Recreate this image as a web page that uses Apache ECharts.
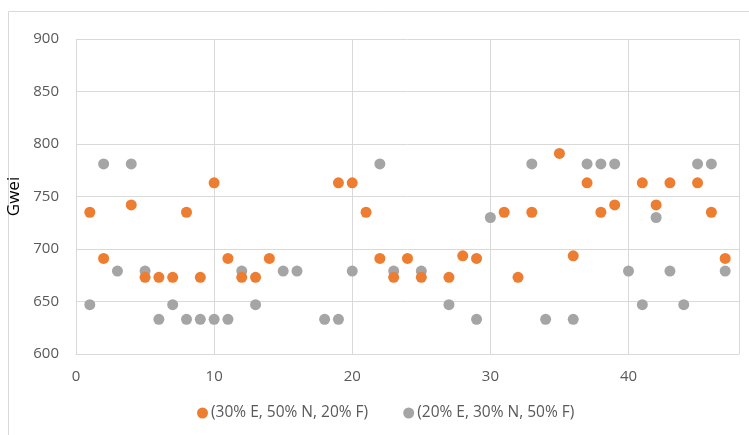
<!DOCTYPE html>
<html>
<head>
<meta charset="utf-8">
<script src="https://cdn.jsdelivr.net/npm/echarts@6/dist/echarts.min.js"></script>
<style>
html,body{margin:0;padding:0;background:#fff;}
#chart{width:749px;height:435px;}
</style>
</head>
<body>
<div id="chart"></div>
<script>
var seriesNames = ['(30% E, 50% N, 20% F)', '(20% E, 30% N, 50% F)'];
var orangeX = [1,2,4,5,6,7,8,9,10,11,12,13,14,19,20,21,22,23,24,25,27,28,29,31,32,33,35,36,37,38,39,41,42,43,45,46,47];
var orangeY = [735,691,742,673,673,673,735,673,763,691,673,673,691,763,763,735,691,673,691,673,673,693.5,691,735,673,735,791,693.5,763,735,742,763,742,763,763,735,691];
var grayX = [1,2,3,4,5,6,7,8,9,10,11,12,13,15,16,18,19,20,22,23,25,27,29,30,33,34,36,37,38,39,40,41,42,43,44,45,46,47];
var grayY = [647,781,679,781,679,633,647,633,633,633,633,679,647,679,679,633,633,679,781,679,679,647,633,730,781,633,633,781,781,781,679,647,730,679,647,781,781,679];
var xTicks = [0,10,20,30,40];
var yTicks = [600,650,700,750,800,850,900];

function pairs(xs, ys){ return xs.map(function(x,i){ return [x, ys[i]]; }); }

var font = 'Open Sans';
var chart = echarts.init(document.getElementById('chart'));
chart.setOption({
  animation: false,
  textStyle: {fontFamily: font},
  graphic: [{
    type: 'rect', shape: {x: 8.5, y: 11.5, width: 760, height: 440},
    style: {fill: 'none', stroke: '#d9d9d9', lineWidth: 1}, silent: true
  }],
  grid: {left: 76, right: 10, top: 39, bottom: 81, containLabel: false, outerBoundsMode: 'none'},
  legend: {
    left: 192, top: 400,
    itemWidth: 11, itemHeight: 11, itemGap: 35,
    textStyle: {fontFamily: font, fontSize: 15.5, color: '#595959', padding: [0,0,0,-2]},
    data: [{name: seriesNames[0], icon: 'circle'}, {name: seriesNames[1], icon: 'circle'}]
  },
  xAxis: {
    type: 'value', min: 0, max: 48, interval: 10,
    axisLine: {show: true, lineStyle: {color: '#d9d9d9', width: 1}},
    axisTick: {show: false},
    splitLine: {show: true, lineStyle: {color: '#d9d9d9', width: 1}},
    axisLabel: {
      color: '#595959', fontSize: 15, fontFamily: font, margin: 15,
      formatter: function(v){ return xTicks.indexOf(v) >= 0 ? String(v) : ''; }
    }
  },
  yAxis: {
    type: 'value', min: 600, max: 900, interval: 50,
    name: 'Gwei', nameLocation: 'middle', nameGap: 45, nameRotate: 90,
    nameTextStyle: {color: '#000', fontSize: 17, fontFamily: font},
    axisLine: {show: false},
    axisTick: {show: false},
    splitLine: {show: true, lineStyle: {color: '#d9d9d9', width: 1}},
    axisLabel: {
      color: '#595959', fontSize: 15, fontFamily: font, margin: 17,
      formatter: function(v){ return yTicks.indexOf(v) >= 0 ? String(v) : ''; }
    }
  },
  series: [
    {name: seriesNames[0], type: 'scatter', symbol: 'circle', symbolSize: 11,
     itemStyle: {color: '#ED7D31', opacity: 1}, data: pairs(orangeX, orangeY), z: 3},
    {name: seriesNames[1], type: 'scatter', symbol: 'circle', symbolSize: 11,
     itemStyle: {color: '#A5A5A5', opacity: 1}, data: pairs(grayX, grayY), z: 2}
  ]
});
</script>
</body>
</html>
